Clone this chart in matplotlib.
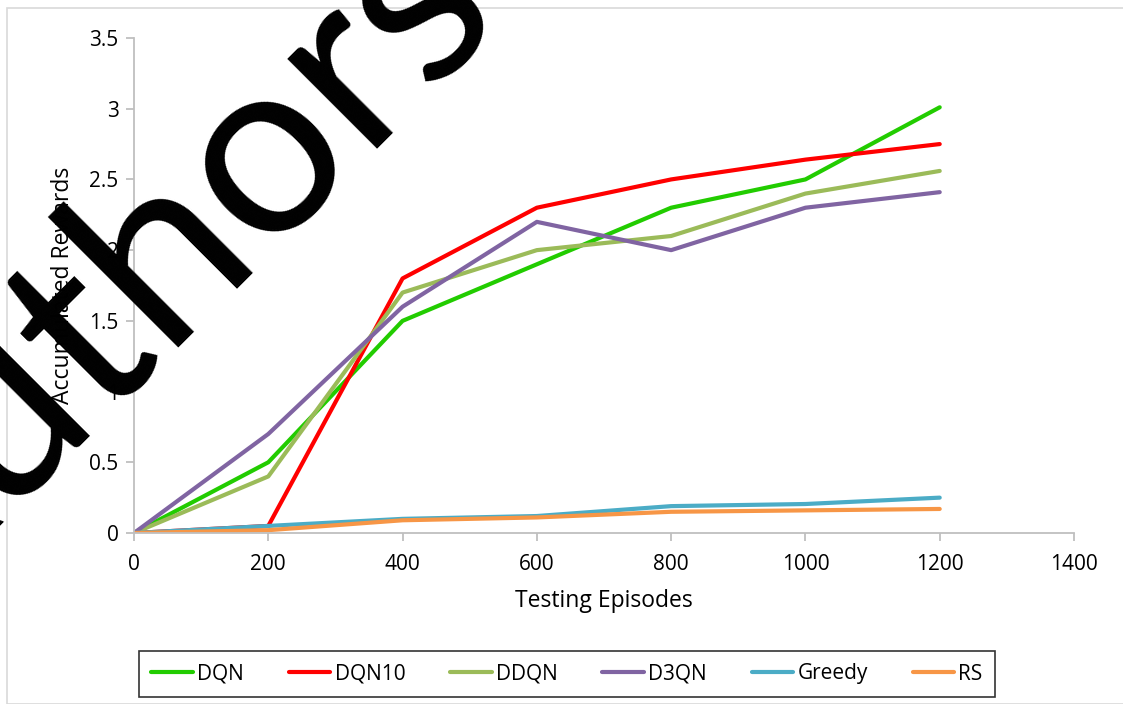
import matplotlib
matplotlib.use("Agg")
import matplotlib.pyplot as plt
from matplotlib.patches import Rectangle

episodes = [0, 200, 400, 600, 800, 1000, 1200]
dqn = [0, 0.5, 1.5, 1.9, 2.3, 2.5, 3.01]
dqn10 = [0, 0.05, 1.8, 2.3, 2.5, 2.64, 2.75]
ddqn = [0, 0.4, 1.7, 2.0, 2.1, 2.4, 2.56]
d3qn = [0, 0.7, 1.6, 2.2, 2.0, 2.3, 2.41]
greedy = [0, 0.05, 0.1, 0.12, 0.19, 0.205, 0.25]
rs = [0, 0.02, 0.09, 0.11, 0.15, 0.16, 0.17]

names = ["DQN", "DQN10", "DDQN", "D3QN", "Greedy", "RS"]
series = [dqn, dqn10, ddqn, d3qn, greedy, rs]
colors = ["#22CC00", "#FF0000", "#9BBB59", "#8064A2", "#4BACC6", "#F79646"]

xticks = [0, 200, 400, 600, 800, 1000, 1200, 1400]
yticks = [0, 0.5, 1, 1.5, 2, 2.5, 3, 3.5]
ytick_labels = ["0", "0.5", "1", "1.5", "2", "2.5", "3", "3.5"]

plt.rcParams["font.family"] = ["Open Sans", "DejaVu Sans"]

W, H = 1123, 704
fig = plt.figure(figsize=(W / 100, H / 100), dpi=100)
ax = fig.add_axes([134 / W, 1 - 533 / H, (1074 - 134) / W, (533 - 38) / H])

for name, vals, c in zip(names, series, colors):
    ax.plot(episodes, vals, color=c, lw=3, label=name, solid_capstyle="round")

ax.set_xlim(0, 1400)
ax.set_ylim(0, 3.5)
ax.set_xticks(xticks)
ax.set_xticklabels([str(t) for t in xticks])
ax.set_yticks(yticks)
ax.set_yticklabels(ytick_labels)
for s in ["top", "right"]:
    ax.spines[s].set_visible(False)
for s in ["left", "bottom"]:
    ax.spines[s].set_color("#BFBFBF")
    ax.spines[s].set_linewidth(1.3)
ax.tick_params(axis="both", colors="#BFBFBF", labelcolor="black", labelsize=15,
               length=6, width=1.3, direction="out")
ax.tick_params(axis="x", pad=9)
ax.tick_params(axis="y", pad=5)
ax.set_xlabel("Testing Episodes", fontsize=16.5, labelpad=10)
ax.set_ylabel("Accumulated Rewards", fontsize=16.5, labelpad=10)

leg = fig.legend(loc="center", bbox_to_anchor=(567 / W, 1 - 674 / H), ncol=6,
                 fontsize=15, frameon=True, fancybox=False, edgecolor="black",
                 handlelength=2.0, handletextpad=0.2, columnspacing=2.15,
                 borderpad=0.6)
leg.get_frame().set_linewidth(1.2)

# outer chart border
fig.patches.append(Rectangle((7 / W, 0), 1.2, 1 - 8 / H, transform=fig.transFigure,
                             fill=False, edgecolor="#D9D9D9", lw=1.2))

# watermark
fig.text(145 / W, 1 - 280 / H, "Authors", fontsize=180, rotation=45,
         rotation_mode="anchor", ha="center", va="center", color="black",
         family="Lato", zorder=10)

fig.savefig("out.png", dpi=100)
